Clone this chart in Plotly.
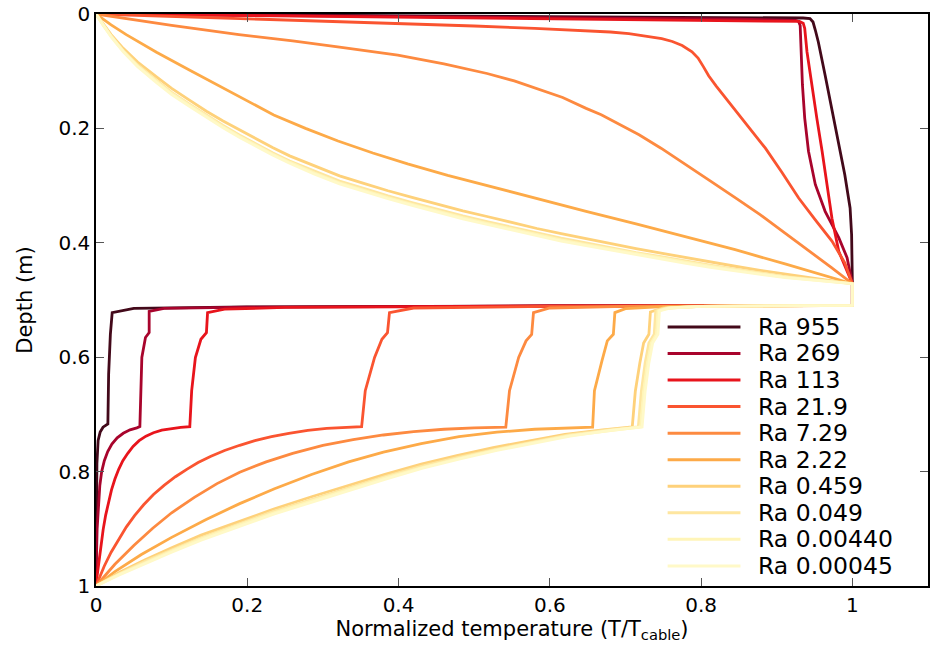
import plotly.graph_objects as go

# ---------------- data ----------------
labels = ["Ra 955", "Ra 269", "Ra 113", "Ra 21.9", "Ra 7.29", "Ra 2.22",
          "Ra 0.459", "Ra 0.049", "Ra 0.00440", "Ra 0.00045"]
colors = ["#43091a", "#a8042c", "#e8141c", "#fa5430", "#fd8a40", "#fdaa48",
          "#fed17a", "#fee6a0", "#fff5b8", "#fff9c8"]

# Ra 955
T_955 = [0, 0.3, 0.6, 0.85, 0.935, 0.944, 0.948, 0.951, 0.955, 0.964, 0.973, 0.982, 0.990, 0.997, 0.999, 1.0,
         1.0, 0.6, 0.2, 0.05, 0.0214, 0.019, 0.0167, 0.0157, 0.0125, 0.0093, 0.0055, 0.0028, 0.0012, 0.0005, 0.0002, 0]
D_955 = [0, 0.002, 0.004, 0.006, 0.007, 0.008, 0.014, 0.028, 0.049, 0.107, 0.165, 0.223, 0.281, 0.339, 0.386, 0.4715,
         0.5095, 0.5105, 0.512, 0.5145, 0.522, 0.56, 0.63, 0.7166, 0.719, 0.7224, 0.731, 0.7456, 0.786, 0.86, 0.94, 1.0]

# Ra 269
T_269 = [0, 0.3, 0.6, 0.85, 0.925, 0.929, 0.931, 0.932, 0.934, 0.937, 0.942, 0.951, 0.964, 0.982, 0.993, 1.0,
         1.0, 0.6, 0.2, 0.09, 0.0703, 0.0703, 0.0654, 0.0606, 0.059, 0.058, 0.054, 0.045, 0.036, 0.028, 0.021,
         0.0155, 0.011, 0.0075, 0.005, 0.003, 0.0015, 0.0006, 0]
D_269 = [0, 0.003, 0.006, 0.009, 0.011, 0.013, 0.02, 0.066, 0.124, 0.182, 0.240, 0.298, 0.345, 0.391, 0.426, 0.4715,
         0.5095, 0.5105, 0.5125, 0.5145, 0.520, 0.557, 0.5656, 0.6005, 0.6585, 0.7213, 0.7235, 0.727, 0.733, 0.741, 0.752,
         0.765, 0.781, 0.80, 0.825, 0.86, 0.9, 0.95, 1.0]

# Ra 113
T_113 = [0, 0.3, 0.6, 0.85, 0.93, 0.935, 0.937, 0.940, 0.946, 0.953, 0.960, 0.966, 0.973, 0.982, 0.992, 1.0,
         1.0, 0.6, 0.25, 0.17, 0.1475, 0.146, 0.1387, 0.1314, 0.1265, 0.124, 0.112, 0.099, 0.087, 0.076, 0.066,
         0.057, 0.049, 0.042, 0.0355, 0.03, 0.025, 0.0205, 0.0165, 0.0128, 0.0095, 0.0065, 0.0038, 0.0015, 0]
D_113 = [0, 0.004, 0.008, 0.011, 0.013, 0.016, 0.025, 0.066, 0.124, 0.182, 0.240, 0.298, 0.357, 0.415, 0.445, 0.4715,
         0.5095, 0.5105, 0.513, 0.516, 0.522, 0.557, 0.5686, 0.6005, 0.6585, 0.7213, 0.7225, 0.7245, 0.7275, 0.732, 0.738,
         0.746, 0.756, 0.768, 0.781, 0.796, 0.813, 0.832, 0.853, 0.876, 0.901, 0.928, 0.957, 0.982, 1.0]

# Ra 21.9
T_219 = [0, 0.1, 0.2, 0.322, 0.42, 0.5, 0.58, 0.6385, 0.68, 0.7045, 0.728, 0.748, 0.762, 0.775, 0.788, 0.796,
         0.803, 0.81, 0.82, 0.838, 0.86, 0.885, 0.907, 0.929, 0.951, 0.973, 0.99, 1.0,
         1.0, 0.6, 0.42, 0.388, 0.3854, 0.378, 0.3683, 0.356, 0.3512, 0.33, 0.305, 0.28, 0.255, 0.232, 0.21, 0.19,
         0.17, 0.152, 0.135, 0.12, 0.105, 0.09, 0.076, 0.063, 0.051, 0.04, 0.03, 0.02, 0.011, 0.004, 0]
D_219 = [0, 0.004, 0.0085, 0.013, 0.017, 0.021, 0.025, 0.0285, 0.0315, 0.0343, 0.0385, 0.043, 0.048, 0.055, 0.066, 0.077,
         0.092, 0.108, 0.126, 0.156, 0.193, 0.2346, 0.277, 0.3217, 0.36, 0.397, 0.435, 0.4715,
         0.5095, 0.511, 0.514, 0.522, 0.557, 0.5686, 0.6005, 0.6585, 0.7213, 0.7225, 0.7245, 0.728, 0.733, 0.739, 0.746, 0.754,
         0.763, 0.773, 0.784, 0.796, 0.809, 0.824, 0.84, 0.858, 0.877, 0.897, 0.918, 0.941, 0.965, 0.986, 1.0]

# Ra 7.29
T_729 = [0, 0.05, 0.1, 0.189, 0.26, 0.322, 0.399, 0.46, 0.517, 0.553, 0.583, 0.617, 0.648, 0.668, 0.688, 0.718,
         0.747, 0.78, 0.813, 0.846, 0.878, 0.911, 0.944, 0.972, 1.0,
         1.0, 0.7, 0.6, 0.5784, 0.576, 0.5686, 0.5588, 0.5467, 0.5418, 0.50, 0.46, 0.42, 0.38, 0.34, 0.30, 0.26,
         0.225, 0.19, 0.16, 0.13, 0.10, 0.075, 0.05, 0.025, 0]
D_729 = [0, 0.0105, 0.020, 0.036, 0.047, 0.058, 0.072, 0.087, 0.104, 0.117, 0.130, 0.146, 0.165, 0.176, 0.190, 0.211,
         0.2346, 0.263, 0.2927, 0.322, 0.3508, 0.383, 0.4146, 0.443, 0.4715,
         0.5095, 0.511, 0.514, 0.522, 0.56, 0.5714, 0.6005, 0.6585, 0.7224, 0.7235, 0.726, 0.73, 0.736, 0.744, 0.754, 0.768,
         0.783, 0.801, 0.821, 0.845, 0.872, 0.899, 0.929, 0.962, 1.0]

# Ra 2.22
T_222 = [0, 0.02, 0.04, 0.06, 0.08, 0.1234, 0.15, 0.18, 0.208, 0.235, 0.277, 0.32, 0.366, 0.412, 0.465, 0.517,
         0.58, 0.648, 0.714, 0.78, 0.845, 0.911, 0.955, 1.0,
         1.0, 0.75, 0.7, 0.686, 0.684, 0.676, 0.669, 0.659, 0.6566, 0.62, 0.58, 0.53, 0.48, 0.43, 0.38, 0.334,
         0.285, 0.236, 0.19, 0.145, 0.1, 0.06, 0.025, 0]
D_222 = [0, 0.019, 0.036, 0.052, 0.067, 0.098, 0.117, 0.138, 0.158, 0.1765, 0.20, 0.222, 0.243, 0.262, 0.282, 0.300,
         0.322, 0.345, 0.367, 0.389, 0.412, 0.437, 0.454, 0.4715,
         0.5095, 0.5115, 0.515, 0.522, 0.56, 0.5714, 0.606, 0.6585, 0.7224, 0.7235, 0.726, 0.731, 0.739, 0.751, 0.766, 0.783,
         0.805, 0.83, 0.856, 0.884, 0.915, 0.945, 0.975, 1.0]

# Ra 0.459
T_0459 = [0, 0.01, 0.02, 0.036, 0.055, 0.08, 0.10, 0.124, 0.146, 0.168, 0.19, 0.212, 0.234, 0.256, 0.289, 0.322,
          0.354, 0.386, 0.419, 0.452, 0.485, 0.517, 0.55, 0.583, 0.615, 0.648, 0.681, 0.714, 0.747, 0.78, 0.812,
          0.845, 0.878, 0.911, 0.955, 1.0,
          1.0, 0.8, 0.75, 0.733, 0.731, 0.724, 0.719, 0.713, 0.709, 0.67, 0.62, 0.575, 0.525, 0.477, 0.43, 0.382,
          0.334, 0.285, 0.236, 0.187, 0.139, 0.10, 0.065, 0.03, 0]
D_0459 = [0, 0.019, 0.036, 0.060, 0.084, 0.110, 0.130, 0.151, 0.170, 0.187, 0.203, 0.219, 0.234, 0.248, 0.266, 0.283,
          0.296, 0.309, 0.321, 0.333, 0.344, 0.354, 0.365, 0.375, 0.384, 0.393, 0.402, 0.410, 0.418, 0.426, 0.433,
          0.441, 0.448, 0.455, 0.463, 0.4715,
          0.5095, 0.511, 0.514, 0.521, 0.56, 0.575, 0.61, 0.66, 0.722, 0.727, 0.735, 0.746, 0.758, 0.772, 0.787, 0.805,
          0.824, 0.844, 0.865, 0.888, 0.911, 0.933, 0.954, 0.977, 1.0]

# Ra 0.049
T_0049 = [0, 0.01, 0.02, 0.036, 0.055, 0.08, 0.10, 0.124, 0.146, 0.168, 0.19, 0.212, 0.234, 0.256, 0.289, 0.322,
          0.354, 0.386, 0.419, 0.452, 0.485, 0.517, 0.55, 0.583, 0.615, 0.648, 0.681, 0.714, 0.747, 0.78, 0.812,
          0.845, 0.878, 0.911, 0.955, 1.0,
          1.0, 0.8, 0.754, 0.740, 0.738, 0.731, 0.726, 0.721, 0.717, 0.677, 0.625, 0.578, 0.528, 0.479, 0.43, 0.381,
          0.332, 0.283, 0.234, 0.186, 0.138, 0.10, 0.065, 0.03, 0]
D_0049 = [0, 0.020, 0.038, 0.064, 0.089, 0.116, 0.137, 0.158, 0.177, 0.195, 0.212, 0.228, 0.243, 0.257, 0.275, 0.292,
          0.305, 0.318, 0.330, 0.342, 0.353, 0.363, 0.373, 0.383, 0.392, 0.400, 0.409, 0.417, 0.424, 0.432, 0.439,
          0.446, 0.452, 0.459, 0.465, 0.4715,
          0.5095, 0.511, 0.514, 0.519, 0.56, 0.575, 0.61, 0.66, 0.722, 0.727, 0.736, 0.748, 0.761, 0.775, 0.791, 0.809,
          0.829, 0.849, 0.870, 0.893, 0.916, 0.937, 0.957, 0.979, 1.0]

# Ra 0.00440
T_00044 = [0, 0.01, 0.02, 0.036, 0.055, 0.08, 0.10, 0.124, 0.146, 0.168, 0.19, 0.212, 0.234, 0.256, 0.289, 0.322,
           0.354, 0.386, 0.419, 0.452, 0.485, 0.517, 0.55, 0.583, 0.615, 0.648, 0.681, 0.714, 0.747, 0.78, 0.812,
           0.845, 0.878, 0.911, 0.955, 1.0,
           1.0, 0.8, 0.757, 0.743, 0.741, 0.734, 0.729, 0.724, 0.720, 0.679, 0.626, 0.579, 0.529, 0.48, 0.431, 0.382,
           0.333, 0.284, 0.235, 0.186, 0.138, 0.10, 0.065, 0.03, 0]
D_00044 = [0, 0.021, 0.039, 0.065, 0.091, 0.118, 0.139, 0.160, 0.179, 0.197, 0.214, 0.230, 0.245, 0.259, 0.278, 0.295,
           0.308, 0.321, 0.333, 0.345, 0.356, 0.366, 0.376, 0.386, 0.395, 0.403, 0.411, 0.419, 0.427, 0.434, 0.441,
           0.448, 0.454, 0.460, 0.466, 0.4715,
           0.5095, 0.511, 0.514, 0.519, 0.56, 0.575, 0.61, 0.66, 0.722, 0.728, 0.737, 0.749, 0.762, 0.777, 0.793, 0.811,
           0.831, 0.851, 0.872, 0.895, 0.918, 0.939, 0.959, 0.980, 1.0]

# Ra 0.00045
T_000045 = [0, 0.01, 0.02, 0.036, 0.055, 0.08, 0.10, 0.124, 0.146, 0.168, 0.19, 0.212, 0.234, 0.256, 0.289, 0.322,
            0.354, 0.386, 0.419, 0.452, 0.485, 0.517, 0.55, 0.583, 0.615, 0.648, 0.681, 0.714, 0.747, 0.78, 0.812,
            0.845, 0.878, 0.911, 0.955, 1.0,
            1.0, 0.8, 0.76, 0.745, 0.743, 0.736, 0.731, 0.726, 0.722, 0.68, 0.627, 0.58, 0.53, 0.48, 0.432, 0.383,
            0.334, 0.285, 0.236, 0.187, 0.139, 0.10, 0.065, 0.03, 0]
D_000045 = [0, 0.021, 0.040, 0.066, 0.092, 0.120, 0.141, 0.162, 0.181, 0.199, 0.216, 0.232, 0.247, 0.261, 0.280, 0.297,
            0.310, 0.323, 0.335, 0.347, 0.358, 0.368, 0.378, 0.388, 0.397, 0.405, 0.413, 0.421, 0.429, 0.436, 0.443,
            0.449, 0.455, 0.461, 0.466, 0.4715,
            0.5095, 0.511, 0.514, 0.519, 0.56, 0.575, 0.61, 0.66, 0.722, 0.728, 0.738, 0.75, 0.763, 0.778, 0.794, 0.813,
            0.833, 0.853, 0.874, 0.897, 0.920, 0.941, 0.961, 0.981, 1.0]

series_T = [T_955, T_269, T_113, T_219, T_729, T_222, T_0459, T_0049, T_00044, T_000045]
series_D = [D_955, D_269, D_113, D_219, D_729, D_222, D_0459, D_0049, D_00044, D_000045]

x_ticks = [0, 0.2, 0.4, 0.6, 0.8, 1]
x_tick_text = ["0", "0.2", "0.4", "0.6", "0.8", "1"]
y_ticks = [0, 0.2, 0.4, 0.6, 0.8, 1]
y_tick_text = ["0", "0.2", "0.4", "0.6", "0.8", "1"]

# ---------------- figure ----------------
FONT = "DejaVu Sans"
W, H = 932, 656
ML, MR, MT, MB = 96, 2, 12, 70
PW, PH = W - ML - MR, H - MT - MB

fig = go.Figure()
for lab, col, tx, dy in zip(labels, colors, series_T, series_D):
    fig.add_trace(go.Scatter(x=tx, y=dy, mode="lines", name=lab,
                             line=dict(color=col, width=2.8), showlegend=False))

# manual key (gnuplot style: long line samples, tight spacing)
key_x0, key_x1, key_tx = 669, 742, 758
key_y0, key_dy = 326, 26.65
shapes = []
annotations = []
for i, (lab, col) in enumerate(zip(labels, colors)):
    py = key_y0 + i * key_dy
    yp = (H - MB - py) / PH
    shapes.append(dict(type="line", xref="paper", yref="paper",
                       x0=(key_x0 - ML) / PW, x1=(key_x1 - ML) / PW, y0=yp, y1=yp,
                       line=dict(color=col, width=3)))
    annotations.append(dict(xref="paper", yref="paper", x=(key_tx - ML) / PW, y=yp,
                            xanchor="left", yanchor="middle", text=lab, showarrow=False,
                            font=dict(family=FONT, size=23.5, color="black")))

fig.update_layout(
    width=W, height=H,
    margin=dict(l=ML, r=MR, t=MT, b=MB),
    paper_bgcolor="white", plot_bgcolor="white",
    font=dict(family=FONT, size=20, color="black"),
    shapes=shapes, annotations=annotations,
    showlegend=False,
)
fig.update_xaxes(range=[0, 1.1], tickvals=x_ticks, ticktext=x_tick_text,
                 ticks="inside", ticklen=8, tickwidth=1, tickcolor="#555555",
                 showline=True, linecolor="black", linewidth=1.5, mirror="ticks",
                 showgrid=False, zeroline=False,
                 tickfont=dict(family=FONT, size=20),
                 title=dict(text="Normalized temperature (T/T<sub>cable</sub>)",
                            font=dict(family=FONT, size=21), standoff=2))
fig.update_yaxes(range=[1, 0], tickvals=y_ticks, ticktext=y_tick_text,
                 ticks="inside", ticklen=8, tickwidth=1, tickcolor="#555555",
                 showline=True, linecolor="black", linewidth=1.5, mirror="ticks",
                 showgrid=False, zeroline=False,
                 tickfont=dict(family=FONT, size=20),
                 title=dict(text="Depth (m)", font=dict(family=FONT, size=21), standoff=20))

fig.write_html("out.html")
